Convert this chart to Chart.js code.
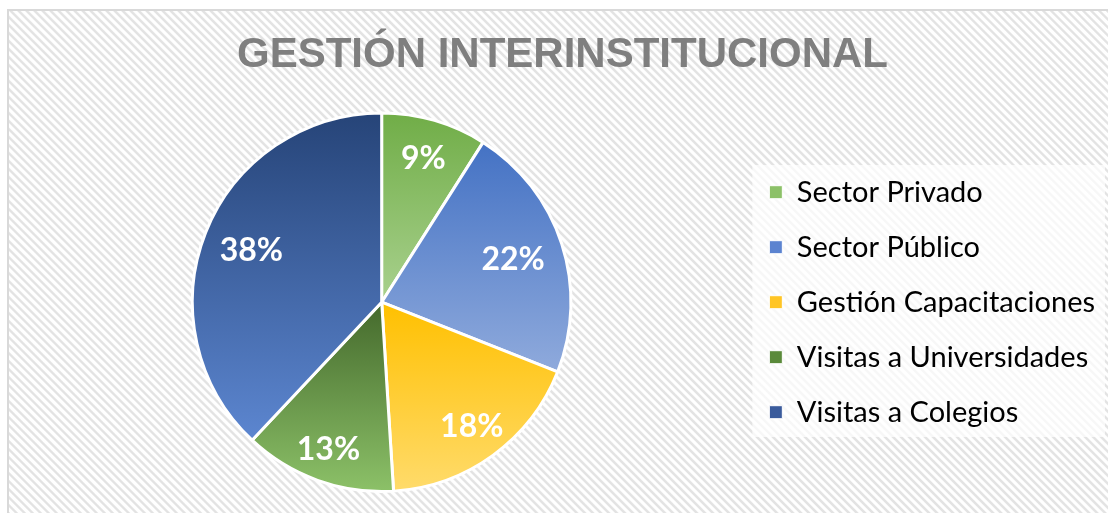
<!DOCTYPE html>
<html>
<head>
<meta charset="utf-8">
<script src="https://cdn.jsdelivr.net/npm/chart.js@4.4.1/dist/chart.umd.min.js"></script>
<style>
    html, body { margin: 0; padding: 0; background: #fff; overflow: hidden; }
    #wrap { position: relative; width: 1108px; height: 513px; }
    #frame {
        position: absolute; left: 7px; top: 9px; width: 1120px; height: 520px;
        border: 2px solid #d9d9d9; box-sizing: border-box;
        background: repeating-linear-gradient(45deg, #ffffff 0px, #ffffff 2.2px, #e3e3e3 3.2px, #e3e3e3 4.6px, #ffffff 5.66px);
    }
    #chart { position: absolute; left: 0; top: 0; }
</style>
</head>
<body>
<div id="wrap">
    <div id="frame"></div>
    <canvas id="chart" width="1108" height="513"></canvas>
</div>
<script>
// --- data ---
var categories = ['Sector Privado', 'Sector Público', 'Gestión Capacitaciones', 'Visitas a Universidades', 'Visitas a Colegios'];
var shares = [9, 22, 18, 13, 38];

// slice colours: top of gradient, bottom of gradient, legend swatch
var topColors = ['#70ad47', '#4472c4', '#ffc000', '#44692c', '#264478'];
var bottomColors = ['#a9d18e', '#8faadc', '#ffdb6b', '#8cc168', '#5c86d0'];
var swatchColors = ['#8cc168', '#5b83d0', '#ffc525', '#5a8a3a', '#3a5b9c'];
// how far out (fraction of radius) each percentage label sits
var labelRadius = [0.79, 0.73, 0.81, 0.83, 0.74];

// gradient fill per slice, spanning the slice's own vertical extent
var sliceGradients = {
    id: 'sliceGradients',
    beforeDatasetsDraw: function (chart) {
        var ctx = chart.ctx;
        chart.getDatasetMeta(0).data.forEach(function (arc, i) {
            var r = arc.outerRadius, a0 = arc.startAngle, a1 = arc.endAngle;
            var ys = [arc.y, arc.y + r * Math.sin(a0), arc.y + r * Math.sin(a1)];
            [-Math.PI / 2, Math.PI / 2, 3 * Math.PI / 2].forEach(function (a) {
                if (a > a0 && a < a1) ys.push(arc.y + r * Math.sin(a));
            });
            var g = ctx.createLinearGradient(0, Math.min.apply(null, ys), 0, Math.max.apply(null, ys));
            g.addColorStop(0, topColors[i]);
            g.addColorStop(1, bottomColors[i]);
            arc.options.backgroundColor = g;
        });
    },
    afterDatasetsDraw: function (chart) {
        var ctx = chart.ctx;
        var total = shares.reduce(function (s, v) { return s + v; }, 0);
        ctx.save();
        ctx.fillStyle = '#ffffff';
        ctx.font = 'bold 32px Lato';
        ctx.textAlign = 'center';
        ctx.textBaseline = 'middle';
        chart.getDatasetMeta(0).data.forEach(function (arc, i) {
            var mid = (arc.startAngle + arc.endAngle) / 2;
            var d = arc.outerRadius * labelRadius[i];
            ctx.fillText(Math.round(shares[i] / total * 100) + '%', arc.x + d * Math.cos(mid), arc.y + d * Math.sin(mid));
        });
        ctx.restore();
    }
};

// translucent white panel behind the legend
var legendPanel = {
    id: 'legendPanel',
    beforeDraw: function (chart) {
        var lg = chart.legend;
        var ctx = chart.ctx;
        ctx.save();
        ctx.fillStyle = 'rgba(255,255,255,0.72)';
        ctx.fillRect(lg.left + 9, 165, 1105 - lg.left - 9, 272);
        ctx.restore();
    }
};

document.addEventListener('DOMContentLoaded', function () {
    var ctx = document.getElementById('chart').getContext('2d');
    new Chart(ctx, {
        type: 'pie',
        data: {
            labels: categories,
            datasets: [{
                data: shares,
                backgroundColor: function (c) { return swatchColors[c.dataIndex]; },
                borderColor: '#ffffff',
                borderWidth: 3
            }]
        },
        plugins: [sliceGradients, legendPanel],
        options: {
            responsive: false,
            animation: false,
            layout: { padding: { left: 20, right: 3, top: 0, bottom: 20 } },
            plugins: {
                tooltip: { enabled: false },
                title: {
                    display: true,
                    text: 'GESTIÓN INTERINSTITUCIONAL',
                    color: '#7f7f7f',
                    font: { family: 'Liberation Sans', size: 42, weight: 'bold' },
                    padding: { top: 30, bottom: 31 }
                },
                legend: {
                    position: 'right',
                    fullSize: false,
                    labels: {
                        color: '#595959',
                        font: { family: 'Lato', size: 29 },
                        boxWidth: 13,
                        boxHeight: 13,
                        padding: 26,
                        generateLabels: function (chart) {
                            return categories.map(function (name, i) {
                                return {
                                    text: name,
                                    fillStyle: swatchColors[i],
                                    strokeStyle: '#ffffff',
                                    lineWidth: 1,
                                    index: i
                                };
                            });
                        }
                    }
                }
            }
        }
    });
});
</script>
</body>
</html>
